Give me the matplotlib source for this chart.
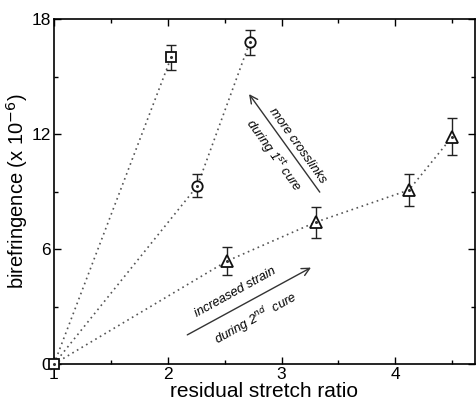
import matplotlib
matplotlib.use("Agg")
import matplotlib.pyplot as plt
import numpy as np

plt.rcParams['font.family'] = ['Liberation Sans', 'DejaVu Sans']

# data
sq_x = [1.0, 2.03]
sq_y = [0.0, 16.0]
sq_err = [0.0, 0.65]

ci_x = [1.0, 2.26, 2.72]
ci_y = [0.0, 9.29, 16.78]
ci_err = [0.0, 0.6, 0.65]

tr_x = [1.0, 2.52, 3.30, 4.12, 4.50]
tr_y = [0.0, 5.37, 7.40, 9.08, 11.86]
tr_err = [0.0, 0.72, 0.8, 0.85, 0.97]

xticks = [1, 2, 3, 4]
yticks = [0, 6, 12, 18]

fig = plt.figure(figsize=(4.76, 4.03), dpi=100)
ax = fig.add_axes([54/476, 39/403, (475-54)/476, (364-19)/403])

lc = '#555555'
for xs, ys in [(sq_x, sq_y), (ci_x, ci_y), (tr_x, tr_y)]:
    ax.plot(xs, ys, linestyle=(0, (1, 2.2)), color=lc, lw=1.2, zorder=1)

def series(xs, ys, es, marker, ms):
    ax.errorbar(xs[1:], ys[1:], yerr=es[1:], fmt='none', ecolor='#222222',
                elinewidth=1.0, capsize=3.5, capthick=1.0, zorder=2)
    ax.plot(xs[1:], ys[1:], linestyle='none', marker=marker, ms=ms,
            mfc='white', mec='#111111', mew=1.3, zorder=3)
    ax.plot(xs[1:], ys[1:], linestyle='none', marker='o', ms=1.2,
            mfc='#333333', mec='#333333', zorder=4)

series(sq_x, sq_y, sq_err, 's', 7)
series(ci_x, ci_y, ci_err, 'o', 7.5)
series(tr_x, tr_y, tr_err, '^', 8.5)

# origin marker
ax.plot([1.0], [0.0], linestyle='none', marker='s', ms=7, mfc='white',
        mec='#111111', mew=1.3, zorder=5, clip_on=False)
ax.plot([1.0], [0.0], linestyle='none', marker='o', ms=1.2, mfc='#333333',
        mec='#333333', zorder=6, clip_on=False)

ax.set_xlim(1, 4.7)
ax.set_ylim(0, 18)
ax.set_xticks(xticks)
ax.set_yticks(yticks)
ax.set_xticks([1.5, 2.5, 3.5, 4.5], minor=True)
ax.set_yticks([3, 9, 15], minor=True)
ax.tick_params(which='both', direction='in', top=True, right=True,
               labelsize=12.5, pad=2)
ax.tick_params(which='major', length=5, width=1)
ax.tick_params(which='minor', length=3, width=1)
for s in ax.spines.values():
    s.set_linewidth(1.2)

ax.set_xlabel('residual stretch ratio', fontsize=15, labelpad=0)
ax.set_ylabel(r'birefringence (x 10$^{-6}$)', fontsize=14.5, labelpad=1)

# arrows
ax.annotate('', xy=(2.70, 14.2), xytext=(3.35, 8.85),
            arrowprops=dict(arrowstyle='->', color='#333333', lw=1.0,
                            mutation_scale=14))
ax.annotate('', xy=(3.28, 5.1), xytext=(2.15, 1.45),
            arrowprops=dict(arrowstyle='->', color='#333333', lw=1.0,
                            mutation_scale=14))

ax.text(3.14, 11.38, 'more crosslinks', rotation=-54.5, fontsize=9.3,
        style='italic', ha='center', va='center', rotation_mode='anchor')
ax.text(2.93, 10.9, r'during 1$^{st}$ cure', rotation=-54.5, fontsize=9.3,
        style='italic', ha='center', va='center', rotation_mode='anchor')
ax.text(2.59, 3.74, 'increased strain', rotation=29, fontsize=9.3,
        style='italic', ha='center', va='center', rotation_mode='anchor')
ax.text(2.77, 2.39, r'during 2$^{nd}$  cure', rotation=29, fontsize=9.3,
        style='italic', ha='center', va='center', rotation_mode='anchor')

fig.savefig('out.png', dpi=100)
